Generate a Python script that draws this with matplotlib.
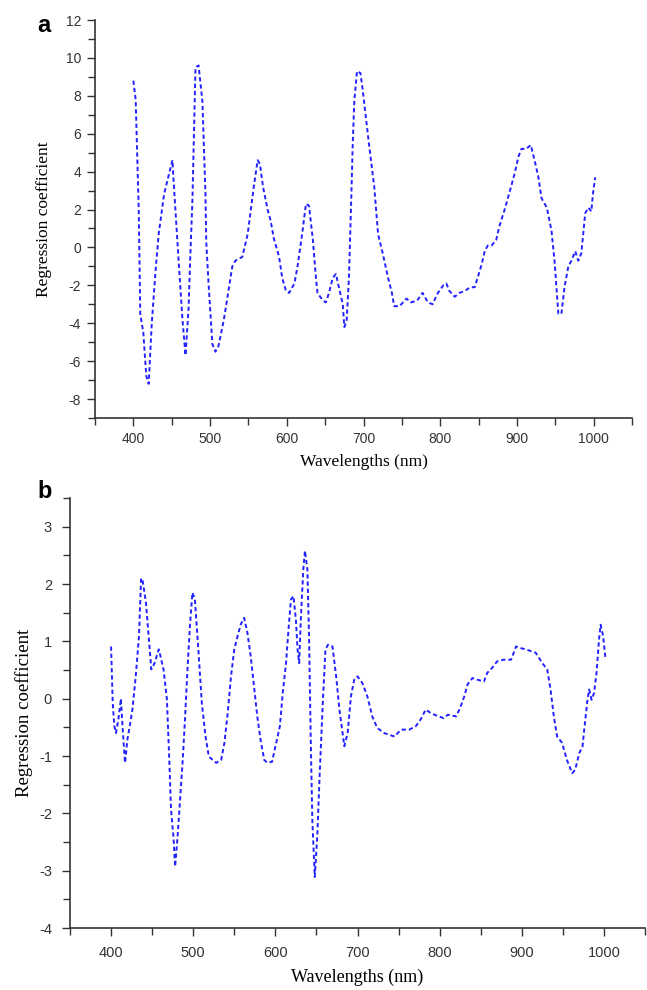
import matplotlib
matplotlib.use("Agg")
import matplotlib.pyplot as plt
from matplotlib.ticker import MultipleLocator

plt.rcParams['axes.unicode_minus'] = False

# Panel a: wavelength (nm) and regression coefficient
wl_a = [400, 403, 407, 408, 409, 413, 416, 417, 420, 424, 429, 433, 440, 446, 451,
        452, 459, 464, 468, 472, 474, 477, 481, 485, 490, 494, 495, 498, 503, 507,
        511, 518, 522, 529, 533, 542, 549, 557, 562, 565, 569, 575, 579, 583, 590,
        594, 599, 603, 610, 614, 620, 625, 629, 634, 638, 640, 647, 651, 655, 660,
        664, 668, 673, 675, 678, 681, 684, 686, 688, 691.5, 696, 699, 703, 707, 714,
        719, 725, 732, 737, 740, 747, 756, 762, 770, 777, 784, 790, 797, 804, 808,
        812, 819, 825, 832, 839, 845, 848, 854, 858, 862, 867, 873, 877, 884, 891,
        897, 902, 906, 912, 918, 923, 928, 932, 939, 945, 949, 954, 958, 962, 967,
        971, 976, 980, 984, 989, 993, 997, 999, 1002]
coef_a = [8.8, 7.8, 2.0, -0.7, -3.5, -4.5, -6.3, -6.8, -7.2, -4.0, -1.2, 0.7, 2.8, 3.8, 4.6,
          3.8, -0.7, -3.8, -5.7, -3.2, -0.7, 2.5, 9.5, 9.6, 7.7, 2.8, 0.3, -1.9, -5.1, -5.5,
          -5.2, -3.8, -2.8, -1.0, -0.7, -0.5, 0.7, 3.2, 4.6, 4.4, 3.2, 2.0, 1.4, 0.5, -0.5,
          -1.6, -2.3, -2.4, -1.9, -1.0, 0.7, 2.3, 2.2, 0.4, -1.6, -2.4, -2.8, -2.9, -2.4, -1.6,
          -1.4, -2.1, -3.0, -4.2, -3.9, -1.6, 2.5, 5.5, 7.7, 9.3, 9.2, 8.3, 6.9, 5.5, 3.2,
          0.7, -0.3, -1.6, -2.4, -3.1, -3.1, -2.7, -2.9, -2.8, -2.4, -2.9, -3.0, -2.4, -2.0, -1.9,
          -2.3, -2.6, -2.4, -2.3, -2.1, -2.1, -1.7, -0.9, -0.2, 0.1, 0.1, 0.4, 1.1, 2.0, 3.0,
          3.9, 4.8, 5.2, 5.2, 5.4, 4.6, 3.7, 2.6, 2.1, 0.9, -0.7, -3.5, -3.5, -2.1, -1.0,
          -0.7, -0.2, -0.7, -0.3, 1.8, 2.1, 1.9, 2.8, 3.7]

# Panel b: wavelength (nm) and regression coefficient
wl_b = [400, 402, 404, 406, 409, 412, 414, 417, 420, 422.5, 426, 430, 434, 436.5, 438,
        442.5, 449, 453, 458, 460, 464, 468, 471, 473, 476, 478, 481, 483.5, 487, 490,
        493, 496, 499, 502, 506.5, 510.5, 515, 519, 524, 528, 534, 538, 542, 546, 550,
        554, 558, 562, 566, 570, 574, 578, 582, 586.5, 590.5, 596, 601, 605.5, 609, 613,
        616, 619, 622, 625, 627, 629, 631, 634, 636, 639, 641, 643, 645, 648, 651,
        654, 658, 661, 664, 669.5, 674, 678, 684, 688, 692, 696, 700, 706, 712, 718,
        724, 732.5, 745, 753, 763, 771, 777, 783, 789, 797, 805, 810, 820, 825, 830,
        834, 840, 846, 854, 858, 864, 870, 878, 887, 893, 899, 905, 911, 917, 925,
        931, 935, 939, 943, 949, 955, 961.5, 965, 970, 974, 976, 980, 982, 985, 988,
        991, 994, 996, 999, 1002]
coef_b = [0.91, -0.07, -0.48, -0.6, -0.35, 0.0, -0.5, -1.12, -0.7, -0.5, -0.19, 0.39, 1.09, 2.08, 2.1,
          1.67, 0.51, 0.62, 0.86, 0.75, 0.5, -0.02, -1.12, -1.94, -2.42, -2.93, -2.4, -1.86, -1.12, -0.36,
          0.51, 1.27, 1.85, 1.74, 0.8, -0.08, -0.66, -1.01, -1.07, -1.12, -1.07, -0.77, -0.25, 0.39, 0.86,
          1.09, 1.3, 1.41, 1.15, 0.74, 0.21, -0.31, -0.72, -1.07, -1.12, -1.1, -0.77, -0.48, 0.1, 0.62,
          1.21, 1.73, 1.79, 1.38, 0.86, 0.62, 1.38, 2.25, 2.58, 2.25, 1.09, -0.66, -2.12, -3.11, -2.4,
          -1.3, 0.0, 0.86, 0.94, 0.91, 0.39, -0.19, -0.83, -0.6, 0.04, 0.33, 0.39, 0.27, 0.04, -0.31,
          -0.51, -0.6, -0.66, -0.54, -0.54, -0.48, -0.36, -0.19, -0.25, -0.3, -0.34, -0.28, -0.31, -0.16, 0.04,
          0.25, 0.36, 0.33, 0.3, 0.45, 0.54, 0.65, 0.68, 0.68, 0.91, 0.88, 0.86, 0.83, 0.8, 0.62,
          0.51, 0.16, -0.31, -0.66, -0.77, -1.07, -1.3, -1.24, -0.95, -0.83, -0.54, -0.02, 0.16, -0.02, 0.1,
          0.45, 1.03, 1.29, 1.09, 0.68]

xticks = [400, 500, 600, 700, 800, 900, 1000]
yticks_a = [-8, -6, -4, -2, 0, 2, 4, 6, 8, 10, 12]
yticks_b = [-4, -3, -2, -1, 0, 1, 2, 3]
xlabel_text = "Wavelengths (nm)"
ylabel_text = "Regression coefficient"

W, H = 647, 990
fig = plt.figure(figsize=(W / 100, H / 100), dpi=100)

line_color = '#2222ff'
dash = (0, (2.2, 1.5))


def style_axes(ax, yminor, tick_size, pad):
    for s in ['top', 'right']:
        ax.spines[s].set_visible(False)
    for s in ['left', 'bottom']:
        ax.spines[s].set_linewidth(1.2)
        ax.spines[s].set_color('#333333')
    ax.set_xlim(350, 1050)
    ax.xaxis.set_minor_locator(MultipleLocator(50))
    ax.yaxis.set_minor_locator(MultipleLocator(yminor))
    ax.tick_params(axis='both', which='both', direction='out', color='#333333', width=1.0)
    ax.tick_params(axis='both', which='major', length=6, pad=pad)
    ax.tick_params(axis='both', which='minor', length=5)
    for lab in ax.get_xticklabels() + ax.get_yticklabels():
        lab.set_fontfamily('Liberation Sans')
        lab.set_fontsize(tick_size)
        lab.set_color('#333333')


# Panel a
ax1 = fig.add_axes([95 / W, 1 - 418 / H, (632 - 95) / W, (418 - 20) / H])
ax1.plot(wl_a, coef_a, color=line_color, lw=1.4, linestyle=dash)
ax1.set_ylim(-9, 12)
ax1.set_xticks(xticks)
ax1.set_yticks(yticks_a)
style_axes(ax1, 1, 10, 4)
ax1.set_xlabel(xlabel_text, family='Liberation Serif', size=12.5, labelpad=6)
ax1.set_ylabel(ylabel_text, family='Liberation Serif', size=12.5, labelpad=10)
fig.text(37 / W, 1 - 25 / H, 'a', fontsize=17, fontweight='bold', family='Liberation Sans',
         va='center', ha='left')

# Panel b
ax2 = fig.add_axes([70 / W, 1 - 928 / H, (645 - 70) / W, (928 - 498) / H])
ax2.plot(wl_b, coef_b, color=line_color, lw=1.4, linestyle=dash)
ax2.set_ylim(-4, 3.5)
ax2.set_xticks(xticks)
ax2.set_yticks(yticks_b)
style_axes(ax2, 0.5, 10.5, 7)
ax2.set_xlabel(xlabel_text, family='Liberation Serif', size=13, labelpad=6)
ax2.set_ylabel(ylabel_text, family='Liberation Serif', size=13.5, labelpad=4)
fig.text(37 / W, 1 - 491 / H, 'b', fontsize=17, fontweight='bold', family='Liberation Sans',
         va='center', ha='left')

fig.savefig('out.png', dpi=100)
